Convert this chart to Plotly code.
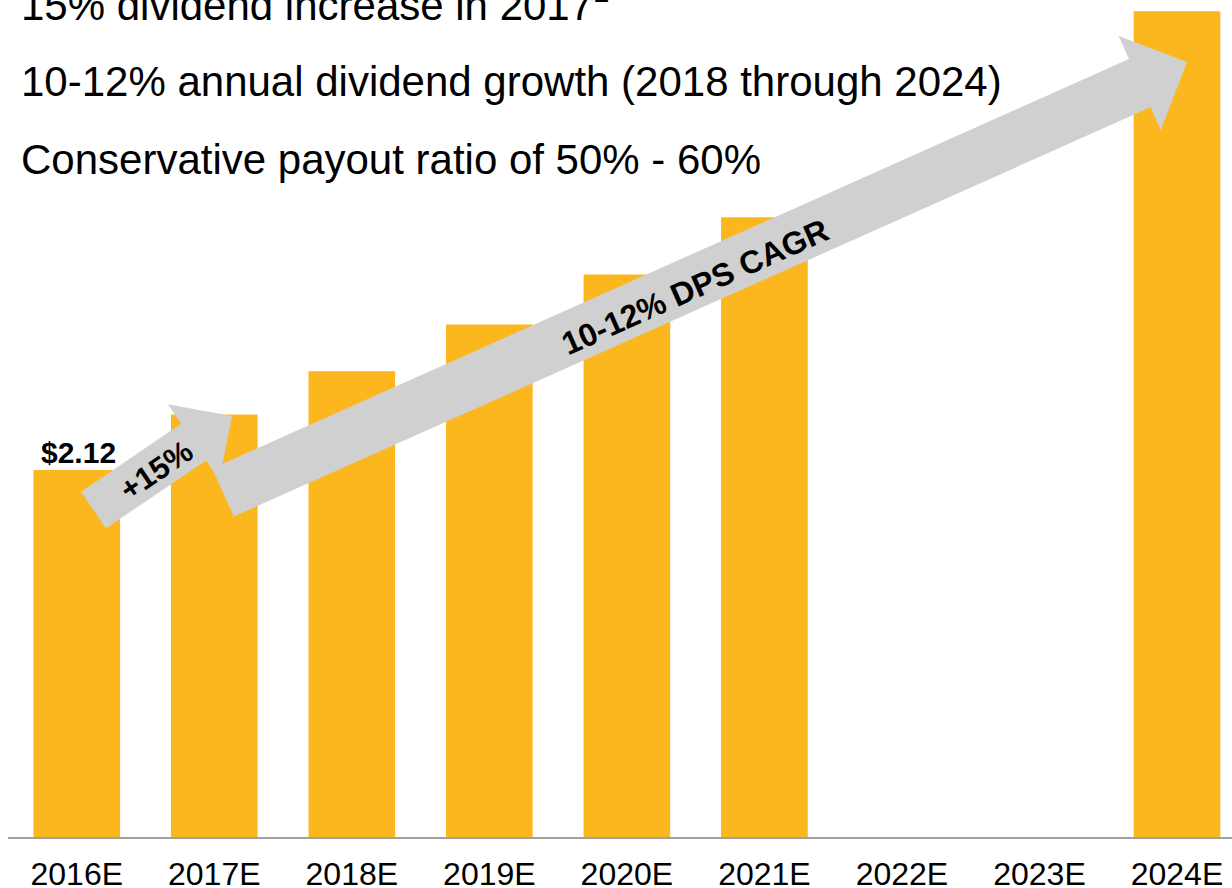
import math
import plotly.graph_objects as go

# ---- data ----
years = ["2016E", "2017E", "2018E", "2019E", "2020E", "2021E", "2022E", "2023E", "2024E"]
dps = [2.12, 2.44, 2.69, 2.96, 3.25, 3.58, None, None, 4.77]
first_label = "$2.12"
bullets = [
    "15% dividend increase in 2017<sup>1</sup>",
    "10-12% annual dividend growth (2018 through 2024)",
    "Conservative payout ratio of 50% - 60%",
]
arrow_small_text = "+15%"
arrow_big_text = "10-12% DPS CAGR"

W, H = 1232, 888
ML, MR, MT, MB = 8, 0, 0, 51
PW, PH = W - ML - MR, H - MT - MB
FONT = "Liberation Sans, Arial, sans-serif"
BAR = "#FDB71E"
GREY = "#D0D0D0"


def px(xp, yp):
    """pixel -> paper"""
    return (xp - ML) / PW, (MT + PH - yp) / PH


def arrow_path(tail, tip, shaft_hw, head_base, head_hw):
    dx, dy = tip[0] - tail[0], tip[1] - tail[1]
    L = math.hypot(dx, dy)
    d = (dx / L, dy / L)
    n = (-d[1], d[0])
    base = (tail[0] + d[0] * head_base, tail[1] + d[1] * head_base)
    pts = [
        (tail[0] + n[0] * shaft_hw, tail[1] + n[1] * shaft_hw),
        (base[0] + n[0] * shaft_hw, base[1] + n[1] * shaft_hw),
        (base[0] + n[0] * head_hw, base[1] + n[1] * head_hw),
        tip,
        (base[0] - n[0] * head_hw, base[1] - n[1] * head_hw),
        (base[0] - n[0] * shaft_hw, base[1] - n[1] * shaft_hw),
        (tail[0] - n[0] * shaft_hw, tail[1] - n[1] * shaft_hw),
    ]
    s = ""
    for i, p in enumerate(pts):
        a, b = px(*p)
        s += ("M" if i == 0 else "L") + f"{a:.5f},{b:.5f}"
    return s + "Z"


fig = go.Figure(
    go.Bar(x=years, y=dps, marker=dict(color=BAR, line=dict(width=0)), width=0.63,
           hoverinfo="skip")
)

shapes = [
    dict(type="path", xref="paper", yref="paper", layer="above",
         path=arrow_path((93.5, 510), (232, 416), 22.2, 121, 45.8),
         fillcolor=GREY, line=dict(width=0)),
    dict(type="path", xref="paper", yref="paper", layer="above",
         path=arrow_path((223, 492.5), (1187, 62), 26.4, 1004, 51.7),
         fillcolor=GREY, line=dict(width=0)),
]

annotations = []
for t, yc in zip(bullets, [2, 82, 159]):
    x0, y0 = px(19, yc)
    annotations.append(dict(text=t, xref="paper", yref="paper", x=x0, y=y0,
                            xanchor="left", yanchor="middle", showarrow=False,
                            font=dict(family=FONT, size=42, color="black")))

ax, ay = px(78, 452)
annotations.append(dict(text=f"<b>{first_label}</b>", xref="paper", yref="paper", x=ax, y=ay,
                        xanchor="center", yanchor="middle", showarrow=False,
                        font=dict(family=FONT, size=30, color="black")))
ax, ay = px(156, 470)
annotations.append(dict(text=f"<b>{arrow_small_text}</b>", xref="paper", yref="paper", x=ax, y=ay,
                        xanchor="center", yanchor="middle", showarrow=False, textangle=-34,
                        font=dict(family=FONT, size=31, color="black")))
ax, ay = px(695, 287)
annotations.append(dict(text=f"<b>{arrow_big_text}</b>", xref="paper", yref="paper", x=ax, y=ay,
                        xanchor="center", yanchor="middle", showarrow=False, textangle=-24,
                        font=dict(family=FONT, size=32, color="black")))

fig.update_layout(
    width=W, height=H,
    margin=dict(l=ML, r=MR, t=MT, b=MB, pad=0, autoexpand=False),
    plot_bgcolor="white", paper_bgcolor="white",
    showlegend=False,
    shapes=shapes,
    annotations=annotations,
    xaxis=dict(type="category", range=[-0.5, 8.4], showgrid=False, automargin=False,
               showline=True, linecolor="#A0A0A0", linewidth=2,
               ticks="outside", ticklen=8, tickcolor="rgba(0,0,0,0)",
               tickfont=dict(family=FONT, size=32, color="black"), fixedrange=True),
    yaxis=dict(range=[0, 4.835], visible=False, fixedrange=True, automargin=False),
)

fig.write_html("out.html", config={"displayModeBar": False},
               post_script="document.body.style.margin='0';")
